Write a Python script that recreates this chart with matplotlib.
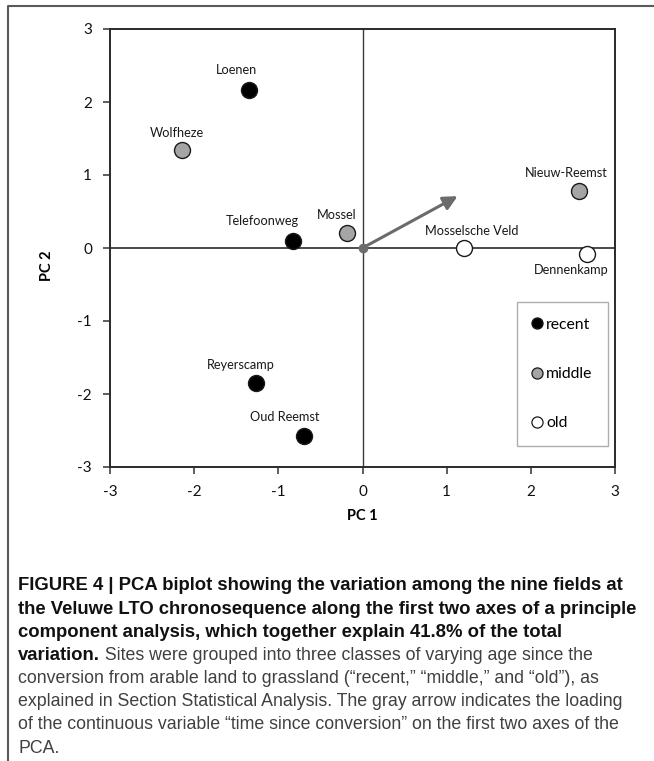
import matplotlib
matplotlib.use("Agg")
import matplotlib.pyplot as plt
from matplotlib.lines import Line2D

# ---------------- data ----------------
sites = ["Loenen", "Wolfheze", "Telefoonweg", "Mossel", "Nieuw-Reemst",
         "Mosselsche Veld", "Dennenkamp", "Reyerscamp", "Oud Reemst"]
pc1 = [-1.35, -2.15, -0.83, -0.19, 2.57, 1.21, 2.67, -1.26, -0.69]
pc2 = [2.16, 1.34, 0.09, 0.21, 0.78, 0.00, -0.08, -1.85, -2.58]
group = ["recent", "middle", "recent", "middle", "middle",
         "old", "old", "recent", "recent"]
classes = ["recent", "middle", "old"]
arrow_loading = (1.13, 0.71)
ticks = [-3, -2, -1, 0, 1, 2, 3]
tick_labels = ["-3", "-2", "-1", "0", "1", "2", "3"]

caption_bold = [
    "FIGURE 4 | PCA biplot showing the variation among the nine fields at",
    "the Veluwe LTO chronosequence along the first two axes of a principle",
    "component analysis, which together explain 41.8% of the total",
    "variation.",
]
caption_rest_line4 = " Sites were grouped into three classes of varying age since the"
caption_regular = [
    "conversion from arable land to grassland (\u201crecent,\u201d \u201cmiddle,\u201d and \u201cold\u201d), as",
    "explained in Section Statistical Analysis. The gray arrow indicates the loading",
    "of the continuous variable \u201ctime since conversion\u201d on the first two axes of the",
    "PCA.",
]

# ---------------- styles ----------------
W, H = 654, 761
fill = {"recent": "#000000", "middle": "#a5a5a5", "old": "#ffffff"}
# label offsets in pixels (dx, dy up)
label_off = [(-12, 20), (-5, 17), (-30, 20), (-10, 18), (-13, 18),
             (7, 17), (-16, -16), (-16, 18), (-20, 19)]
lab_font = ["Lato", "DejaVu Sans"]
cap_font = ["Liberation Sans", "DejaVu Sans"]
px = 72 / 100.0

fig = plt.figure(figsize=(W / 100, H / 100), dpi=100)
fig.patch.set_facecolor("white")

ax = fig.add_axes([110 / W, 1 - 467 / H, (615 - 110) / W, (467 - 29) / H])
ax.set_xlim(-3, 3)
ax.set_ylim(-3, 3)

ax.axhline(0, color="#1a1a1a", lw=1.1, zorder=1)
ax.axvline(0, color="#3a3a3a", lw=1.0, zorder=1)

for x, y, g in zip(pc1, pc2, group):
    ax.plot(x, y, "o", ms=11.5, mfc=fill[g], mec="#1a1a1a", mew=1.0, zorder=3)

for (x, y, s), (dx, dy) in zip(zip(pc1, pc2, sites), label_off):
    ax.annotate(s, (x, y), xytext=(dx * px, dy * px), textcoords="offset points",
                ha="center", va="center", fontsize=9.2, family=lab_font,
                color="#1a1a1a", zorder=4)

ax.plot(0, 0, "o", ms=6, color="#6e6e6e", mec="#6e6e6e", zorder=4)
ax.annotate("", xy=arrow_loading, xytext=(0, 0),
            arrowprops=dict(arrowstyle="-|>,head_length=0.6,head_width=0.3",
                            color="#6b6b6b", lw=2.2, shrinkA=0, shrinkB=0,
                            mutation_scale=14), zorder=4)

ax.set_xticks(ticks)
ax.set_xticklabels(tick_labels)
ax.set_yticks(ticks)
ax.set_yticklabels(tick_labels)
ax.tick_params(direction="out", length=5, width=1.1, color="#333333",
               labelsize=11, pad=8, labelcolor="#111111")
for lbl in ax.get_xticklabels() + ax.get_yticklabels():
    lbl.set_family(lab_font)
for sp in ax.spines.values():
    sp.set_color("#2a2a2a")
    sp.set_linewidth(1.4)

ax.set_xlabel("PC 1", fontsize=10.5, fontweight="bold", family=lab_font, labelpad=7)
ax.set_ylabel("PC 2", fontsize=10.5, fontweight="bold", family=lab_font, labelpad=22)
ax.yaxis.set_label_coords(-(110 - 54) / 505, 0.46)

handles = [Line2D([], [], ls="none", marker="o", ms=8, mfc=fill[c], mec="#1a1a1a",
                  mew=0.9) for c in classes]
leg = ax.legend(handles, classes, loc="upper left",
                bbox_to_anchor=((517 - 110) / 505, 1 - (302 - 29) / 438),
                frameon=True, fancybox=False, prop={"family": lab_font, "size": 11.3},
                handlelength=0.6, handletextpad=0.25, labelspacing=2.25,
                borderpad=1.0, borderaxespad=0, edgecolor="#9a9a9a")
leg.get_frame().set_linewidth(1.0)

# outer frame (top and left)
fig.add_artist(Line2D([8 / W, 8 / W, 1.0], [0.0, 1 - 6 / H, 1 - 6 / H],
                      transform=fig.transFigure, color="#5a5a5a", lw=1.5))

# caption
line_y = [586 + 23.15 * i for i in range(8)]
x0 = 18 / W
for i, t in enumerate(caption_bold):
    fig.text(x0, 1 - line_y[i] / H, t, fontsize=13.3, fontweight="bold",
             family=cap_font, color="#111111", va="center", ha="left")
fig.canvas.draw()
r = fig.canvas.get_renderer()
last = fig.texts[-1]
bb = last.get_window_extent(renderer=r)
fig.text(bb.x1 / W, 1 - line_y[3] / H, caption_rest_line4, fontsize=12.8,
         family=cap_font, color="#404040", va="center", ha="left")
for j, t in enumerate(caption_regular):
    fig.text(x0, 1 - line_y[4 + j] / H, t, fontsize=12.8, family=cap_font,
             color="#404040", va="center", ha="left")

fig.savefig("out.png", dpi=100, facecolor="white")
